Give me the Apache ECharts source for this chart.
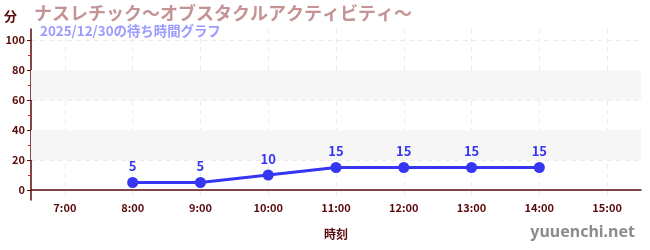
<!DOCTYPE html>
<html><head><meta charset="utf-8">
<script src="https://cdn.jsdelivr.net/npm/echarts@6/dist/echarts.min.js"></script>
<style>html,body{margin:0;padding:0;background:#fff}#c{width:650px;height:250px}</style>
</head><body><div id="c"></div>
<script>
const titleText = 'ナスレチック〜オブスタクルアクティビティ〜';
const subTitleText = '2025/12/30の待ち時間グラフ';
const categories = ['7:00','8:00','9:00','10:00','11:00','12:00','13:00','14:00','15:00'];
const waitTimes = [null, 5, 5, 10, 15, 15, 15, 15, null];
const yLabelValues = [0, 20, 40, 60, 80, 100];
const bands = [[20, 40], [60, 80]];

const axisColor = '#5a0a0a';
const font = '"Noto Sans CJK JP", "Noto Sans", sans-serif';
const chart = echarts.init(document.getElementById('c'), null, {renderer: 'canvas'});
chart.setOption({
  animation: false,
  textStyle: {fontFamily: font},
  title: [{
    text: titleText, left: 34, top: 4, padding: 0,
    textStyle: {fontSize: 18, fontWeight: 'bold', color: '#c49494', fontFamily: font}
  }, {
    text: subTitleText, left: 40, top: 24, padding: 0,
    textStyle: {fontSize: 13.4, fontWeight: 'bold', color: '#9b9bff', fontFamily: font}
  }],
  graphic: [{
    type: 'text', right: 15, top: 224,
    style: {text: 'yuuenchi.net', fontSize: 16, fontWeight: 'bold', fill: '#8c8c8c', fontFamily: '"Noto Sans", sans-serif'}
  }],
  grid: {left: 31, right: 9, top: 29, bottom: 50, containLabel: false},
  xAxis: {
    type: 'category', data: categories, boundaryGap: true,
    name: '時刻', nameLocation: 'middle', nameGap: 28,
    nameTextStyle: {color: axisColor, fontSize: 12, fontWeight: 'bold'},
    axisLine: {lineStyle: {color: axisColor, width: 1.5}},
    axisTick: {alignWithLabel: true, length: 4, lineStyle: {color: axisColor}},
    axisLabel: {color: axisColor, fontSize: 11, margin: 2, fontWeight: 'bold'},
    splitLine: {show: true, alignWithLabel: true, lineStyle: {color: '#ececec', type: [5, 4]}}
  },
  yAxis: {
    type: 'value', min: -6.67, max: 107.3, splitNumber: 5,
    name: '分', nameLocation: 'end', nameGap: 6,
    nameTextStyle: {color: axisColor, fontSize: 13, fontWeight: 'bold', align: 'right', padding: [0, 14, 0, 0]},
    axisLine: {show: true, lineStyle: {color: axisColor, width: 1.5}},
    axisTick: {show: true, length: 4, lineStyle: {color: axisColor}, customValues: yLabelValues},
    minorTick: {show: true, splitNumber: 2, length: 3, lineStyle: {color: '#d42020'}},
    axisLabel: {color: axisColor, fontSize: 11, margin: 6, fontWeight: 'bold', customValues: yLabelValues},
    splitLine: {show: true, lineStyle: {color: '#ececec', type: [5, 4]}},
    splitArea: {show: false}
  },
  series: [{
    type: 'line', data: waitTimes,
    symbol: 'circle', symbolSize: 11,
    lineStyle: {color: '#3535f2', width: 3},
    itemStyle: {color: '#3535f2'},
    label: {show: true, position: 'top', distance: 4, color: '#3535f2', fontSize: 13, fontWeight: 'bold'},
    markArea: {
      silent: true, itemStyle: {color: '#f6f6f6'},
      label: {show: false},
      data: bands.map(b => [{yAxis: b[0]}, {yAxis: b[1]}])
    },
    z: 3
  }]
});
</script></body></html>
